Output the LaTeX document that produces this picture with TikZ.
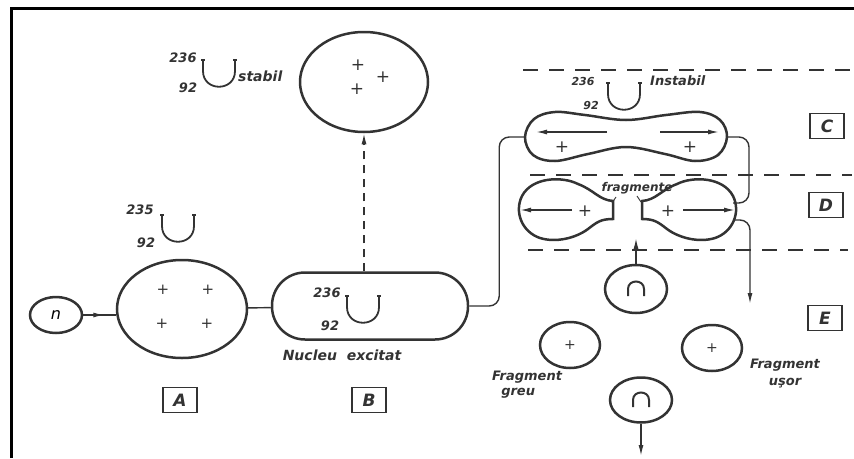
\documentclass[tikz,border=0pt]{standalone}
\usepackage{fontspec}
\setmainfont{DejaVu Sans}
\usetikzlibrary{arrows.meta,shapes.geometric}

\definecolor{ink}{HTML}{333333}

\begin{document}
\begin{tikzpicture}[x=1pt, y=-1pt, >={Latex[length=11pt,width=5pt]},
  wire/.style={ink, line width=1.4pt},
  shell/.style={ink, line width=2.5pt},
  nucleus/.style={ellipse, draw=ink, line width=2.5pt, inner sep=0pt},
  neutron/.style={ellipse, draw=ink, line width=2.5pt, inner sep=0pt, minimum width=62pt, minimum height=46pt},
  stagebox/.style={draw=ink, line width=1.6pt, minimum width=34pt, minimum height=25pt, inner sep=0pt,
    font=\fontsize{17}{17}\selectfont\bfseries\itshape, text=ink},
  note/.style={font=\fontsize{14}{15}\selectfont\bfseries\itshape, text=ink, inner sep=0pt},
  isotope/.style={font=\fontsize{13}{13}\selectfont\bfseries\itshape, text=ink, inner sep=0pt},
  charge/.style={font=\fontsize{17}{17}\selectfont, text=ink, inner sep=0pt},
  zone/.style={ink, line width=1.2pt, dash pattern=on 15pt off 11pt},
  uranium/.pic={
    \draw[shell, line width=1.8pt] (-16,-13) -- (-16,-2) .. controls (-16,19) and (16,19) .. (16,-2) -- (16,-13);
    \draw[wire] (-18,-13) -- (-14,-13) (14,-13) -- (18,-13);
  },
  arch/.pic={
    \draw[shell, line width=2pt] (-8,7) -- (-8,0) .. controls (-8,-10) and (8,-10) .. (8,0) -- (8,7);
  },
]
  \useasboundingbox (0,0) rectangle (854,458);

  % frame
  \draw[black, line width=3pt] (11,458) -- (11,8) -- (854,8);

  % ---- A : uranium 235 hit by a neutron
  \node[neutron, minimum width=52pt, minimum height=36pt] (n) at (56,315) {\fontsize{16}{16}\selectfont\itshape n};
  \node[nucleus, minimum width=130pt, minimum height=98pt] (A) at (182,309) {};
  \foreach \px/\py in {163/290, 208/290, 162/324, 207/324}
    \node[charge, font=\fontsize{15}{15}\selectfont] at (\px,\py) {+};
  \node[isotope] (a-mass) at (140,210) {235};
  \node[isotope] (a-z) at (146,243) {92};
  \pic at (178,228) {uranium};
  \node[stagebox] (stA) at (180,400) {A};

  % ---- B : compound nucleus
  \node[draw=ink, line width=2.5pt, rounded corners=33pt, minimum width=196pt, minimum height=67pt] (B) at (370,306) {};
  \node[isotope] (b-mass) at (327,293) {236};
  \node[isotope] (b-z) at (330,326) {92};
  \pic at (363,309) {uranium};
  \node[note] (excit) at (342,355) {Nucleu \ excitat};
  \node[stagebox] (stB) at (369,400) {B};

  % stable branch
  \node[nucleus, minimum width=128pt, minimum height=100pt] (stab) at (364,82) {};
  \node[charge] at (358,65) {+};
  \node[charge] at (383,77) {+};
  \node[charge] at (357,89) {+};
  \node[isotope] (s-mass) at (183,58) {236};
  \node[isotope] (s-z) at (188,88) {92};
  \pic at (219,73) {uranium};
  \node[note, anchor=west] (stabil) at (238,76) {stabil};

  % ---- zones C, D, E
  \draw[zone] (523,70) -- (852,70);
  \draw[zone] (530,175) -- (852,175);
  \draw[zone] (528,250) -- (848,250);
  \node[stagebox] (stC) at (827,126) {C};
  \node[stagebox] (stD) at (826,205) {D};
  \node[stagebox] (stE) at (825,318) {E};

  % C : deformed nucleus
  \draw[shell] plot[smooth cycle, tension=0.6] coordinates {(525,137) (534,119) (555,112) (585,115) (626,120) (666,115) (700,112) (720,120) (727,137) (718,155) (695,161) (665,154) (626,147) (588,154) (555,161) (533,155)};
  \coordinate (C-l) at (525,137);
  \coordinate (C-r) at (727,137);
  \draw[wire, ->] (607,132) -- (536,132);
  \draw[wire, ->] (660,132) -- (719,132);
  \node[charge] at (562,147) {+};
  \node[charge] at (690,147) {+};
  \node[isotope, font=\fontsize{11}{11}\selectfont\bfseries\itshape] (c-mass) at (583,81) {236};
  \node[isotope, font=\fontsize{11}{11}\selectfont\bfseries\itshape] (c-z) at (591,105) {92};
  \pic at (624,96) {uranium};
  \node[note, font=\fontsize{13}{13}\selectfont\bfseries\itshape, anchor=west] (instab) at (650,81) {Instabil};

  % D : the two fragments breaking apart (right one mirrored)
  \foreach \flip/\off in {1/0, -1/1255}{
    \begin{scope}[xshift=\off pt, xscale=\flip]
      \draw[shell] (613,201) .. controls (599,200) and (594,190) .. (578,184)
        .. controls (562,176) and (532,177) .. (522,196) .. controls (514,212) and (522,232) .. (540,238)
        .. controls (556,243) and (576,238) .. (588,229) .. controls (597,222) and (601,219) .. (613,219)
        -- cycle;
    \end{scope}
  }
  \coordinate (D-r1) at (733,203);
  \coordinate (D-r2) at (733,220);
  \draw[wire, ->] (572,210) -- (520,210);
  \draw[wire, ->] (683,210) -- (735,210);
  \node[charge] at (585,211) {+};
  \node[charge] at (668,211) {+};
  \node[note, font=\fontsize{12}{12}\selectfont\bfseries\itshape] (frag) at (637,188) {fragmente};
  \draw[wire, line width=0.9pt] (616,197) -- (612,203);
  \draw[wire, line width=0.9pt] (637,196) -- (641,202);

  % E : products
  \node[neutron, minimum height=48pt] (n2) at (636,289) {};
  \pic at (636,289) {arch};
  \coordinate (gap) at (636,238);
  \node[nucleus, minimum width=60pt, minimum height=46pt] (heavy) at (570,345) {};
  \node[charge, font=\fontsize{14}{14}\selectfont] at (570,345) {+};
  \node[nucleus, minimum width=60pt, minimum height=46pt] (light) at (712,348) {};
  \node[charge, font=\fontsize{14}{14}\selectfont] at (712,348) {+};
  \node[note, align=left, anchor=north west, font=\fontsize{13}{15}\selectfont\bfseries\itshape] (greu) at (492,371) {Fragment\\\ \ greu};
  \node[note, align=center, font=\fontsize{13}{17}\selectfont\bfseries\itshape] (usor) at (785,374) {Fragment\\uşor};
  \node[neutron, minimum height=45pt] (n3) at (641,400) {};
  \pic at (641,400) {arch};
  \coordinate (exit) at (641,456);
  \coordinate (drop) at (750,304);

  % connections
  \draw[wire] (n.east) -- (n.east -| A.west);
  \draw[wire, ->] (n.east) -- ++(21,0);
  \draw[wire] (A) -- (B);
  \draw[wire, dashed, dash pattern=on 8pt off 6pt, ->] (B.north -| stab.south) -- (stab.south);
  \draw[wire, rounded corners=10pt] (B.east) -- ++(30,0) |- (C-l);
  \draw[wire, rounded corners=10pt] (C-r) -- ++(22,0) |- (D-r1);
  \draw[wire, rounded corners=10pt, ->] (D-r2) -| (drop);
  \draw[wire, ->] (n2) -- (gap);
  \draw[wire, ->] (n3) -- (exit);

\end{tikzpicture}
\end{document}
